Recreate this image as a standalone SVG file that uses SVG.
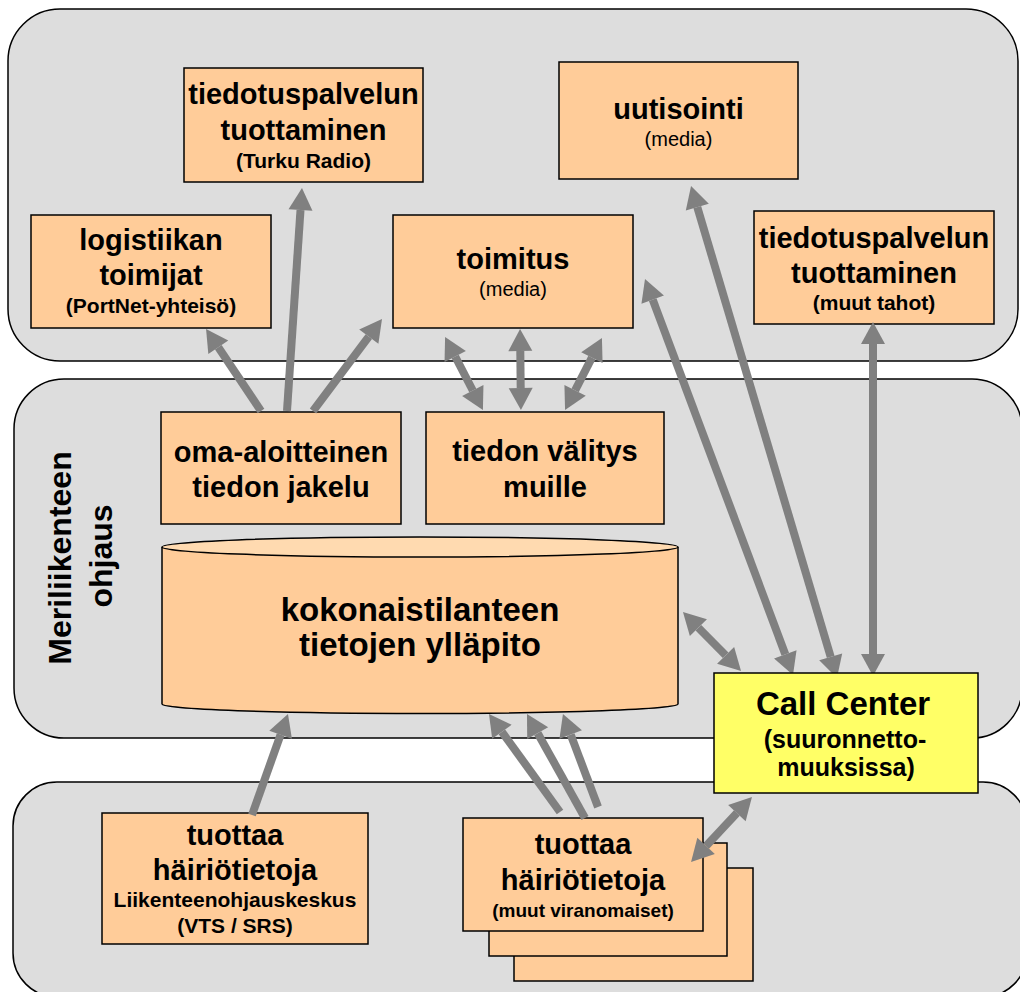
<svg xmlns="http://www.w3.org/2000/svg" width="1020" height="992" viewBox="0 0 1020 992">
  <style>
    .panel { fill: #dddddd; stroke: #000; stroke-width: 1.5; }
    .box { fill: #ffcc99; stroke: #000; stroke-width: 1.5; }
    .cc { fill: #ffff66; stroke: #000; stroke-width: 1.5; }
    text { font-family: "Liberation Sans", Arial, sans-serif; fill: #000; text-anchor: middle; }
    .t { font-size: 29px; font-weight: bold; }
    .s { font-size: 21px; font-weight: bold; }
    .m { font-size: 20px; }
    .big { font-size: 33px; font-weight: bold; }
    .side { font-size: 32px; font-weight: bold; }
    .arr { stroke: #808080; stroke-width: 8; fill: none; }
    .one { marker-end: url(#head); }
    .two { marker-start: url(#head); marker-end: url(#head); }
  </style>
  <defs>
    <marker id="head" markerUnits="userSpaceOnUse" markerWidth="24" markerHeight="26" viewBox="0 -13 23 26" refX="0" refY="0" orient="auto-start-reverse">
      <path d="M0,-12 L22,0 L0,12 Z" fill="#808080"/>
    </marker>
  </defs>

  <!-- background panels -->
  <g id="panels">
    <rect class="panel" x="8" y="9" width="1010" height="352" rx="52" ry="52"/>
    <rect class="panel" x="14" y="379" width="1008" height="359" rx="50" ry="50"/>
    <rect class="panel" x="13" y="782" width="1014" height="215" rx="44" ry="44"/>
  </g>

  <!-- side label -->
  <g id="side-label">
    <text class="side" transform="translate(71,558) rotate(-90)">Meriliikenteen</text>
    <text class="side" transform="translate(112,556) rotate(-90)">ohjaus</text>
  </g>

  <!-- nodes -->
  <g id="turku-radio">
    <rect class="box" x="184" y="68" width="239" height="114"/>
    <text class="t" x="303.5" y="104">tiedotuspalvelun</text>
    <text class="t" x="303.5" y="140">tuottaminen</text>
    <text class="s" x="303.5" y="168">(Turku Radio)</text>
  </g>

  <g id="logistiikka">
    <rect class="box" x="31" y="215" width="240" height="113"/>
    <text class="t" x="151" y="250">logistiikan</text>
    <text class="t" x="151" y="285">toimijat</text>
    <text class="s" x="151" y="313">(PortNet-yhteisö)</text>
  </g>

  <g id="toimitus">
    <rect class="box" x="393" y="215" width="240" height="113"/>
    <text class="t" x="513" y="269">toimitus</text>
    <text class="m" x="513" y="296">(media)</text>
  </g>

  <g id="uutisointi">
    <rect class="box" x="559" y="62" width="239" height="117"/>
    <text class="t" x="678.5" y="119">uutisointi</text>
    <text class="m" x="678.5" y="146">(media)</text>
  </g>

  <g id="muut-tahot">
    <rect class="box" x="754" y="211" width="240" height="113"/>
    <text class="t" x="874" y="248">tiedotuspalvelun</text>
    <text class="t" x="874" y="283">tuottaminen</text>
    <text class="s" x="874" y="310">(muut tahot)</text>
  </g>

  <g id="oma-aloitteinen">
    <rect class="box" x="161" y="412" width="240" height="112"/>
    <text class="t" x="281" y="462">oma-aloitteinen</text>
    <text class="t" x="281" y="497">tiedon jakelu</text>
  </g>

  <g id="tiedon-valitys">
    <rect class="box" x="426" y="412" width="238" height="112"/>
    <text class="t" x="545" y="461">tiedon välitys</text>
    <text class="t" x="545" y="497">muille</text>
  </g>

  <g id="kokonaistilanne">
    <path class="box" d="M162,547 L162,704 A258,9.5 0 0 0 678,704 L678,547"/>
    <ellipse cx="420" cy="547" rx="258" ry="10" fill="#ffdab0" stroke="#000" stroke-width="1.5"/>
    <text class="big" x="420" y="621">kokonaistilanteen</text>
    <text class="big" x="420" y="656">tietojen ylläpito</text>
  </g>

  <g id="liikenteenohjaus">
    <rect class="box" x="102" y="813" width="266" height="131"/>
    <text class="t" x="235" y="845">tuottaa</text>
    <text class="t" x="235" y="880">häiriötietoja</text>
    <text class="s" x="235" y="907">Liikenteenohjauskeskus</text>
    <text class="s" x="235" y="933">(VTS / SRS)</text>
  </g>

  <g id="muut-viranomaiset">
    <rect class="box" x="514" y="868" width="239" height="113"/>
    <rect class="box" x="489" y="843" width="238" height="113"/>
    <rect class="box" x="463" y="818" width="240" height="113"/>
    <text class="t" x="583" y="854">tuottaa</text>
    <text class="t" x="583" y="890">häiriötietoja</text>
    <text class="s" x="583" y="917" style="font-size:19px">(muut viranomaiset)</text>
  </g>

  <!-- connectors -->
  <g id="connectors">
    <line class="arr one" x1="261" y1="411" x2="218.3" y2="347.3"/>
    <line class="arr one" x1="287" y1="411" x2="300.5" y2="210"/>
    <line class="arr one" x1="313" y1="411" x2="368.8" y2="336.6"/>
    <line class="arr two" x1="455.2" y1="356.5" x2="472.8" y2="390.5"/>
    <line class="arr two" x1="520.3" y1="351" x2="520.7" y2="388"/>
    <line class="arr two" x1="591.9" y1="357.6" x2="575.1" y2="390.4"/>
    <line class="arr two" x1="652.7" y1="299.6" x2="785.3" y2="654.4"/>
    <line class="arr two" x1="697.3" y1="207.1" x2="830.7" y2="656.9"/>
    <line class="arr two" x1="873" y1="344" x2="873" y2="654"/>
    <line class="arr two" x1="698.4" y1="627.7" x2="725.6" y2="655.3"/>
    <line class="arr one" x1="252" y1="815" x2="280.6" y2="734.7"/>
    <line class="arr one" x1="560" y1="812" x2="501.9" y2="731.8"/>
    <line class="arr one" x1="585" y1="818" x2="537.7" y2="733.2"/>
    <line class="arr one" x1="598" y1="807" x2="570.7" y2="734.6"/>
    <line class="arr two" x1="736.9" y1="813.1" x2="706.1" y2="845.9"/>
  </g>

  <g id="call-center">
    <rect class="cc" x="714" y="673" width="264" height="120"/>
    <text class="big" x="843" y="715">Call Center</text>
    <text x="845" y="748" style="font-size:25px;font-weight:bold">(suuronnetto-</text>
    <text x="846" y="776" style="font-size:25px;font-weight:bold">muuksissa)</text>
  </g>
</svg>
